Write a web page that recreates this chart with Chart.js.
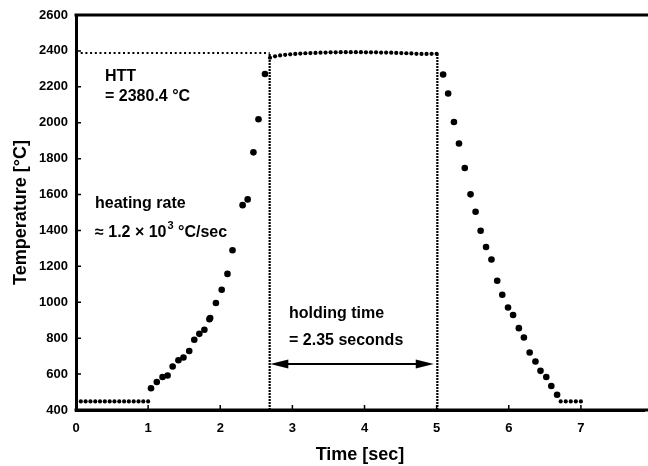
<!DOCTYPE html>
<html>
<head>
<meta charset="utf-8">
<script src="https://cdn.jsdelivr.net/npm/chart.js@4"></script>
<style>
html,body{margin:0;padding:0;background:#fff;}
#wrap{width:648px;height:466px;}
</style>
</head>
<body>
<div id="wrap"><canvas id="c" width="648" height="466"></canvas></div>
<script>
// ---- data ----
const xTicks = [0, 1, 2, 3, 4, 5, 6, 7];
const yTicks = [400, 600, 800, 1000, 1200, 1400, 1600, 1800, 2000, 2200, 2400, 2600];

const flatStartX = [0, 0.067, 0.133, 0.2, 0.267, 0.333, 0.4, 0.467, 0.533, 0.6, 0.667, 0.733, 0.8, 0.867, 0.933, 1.0];
const flatStartY = [448, 448, 448, 448, 448, 448, 448, 448, 448, 448, 448, 448, 448, 448, 448, 448];

const riseX = [1.04, 1.12, 1.20, 1.27, 1.34, 1.42, 1.49, 1.57, 1.64, 1.71, 1.78, 1.85, 1.86, 1.94, 2.02, 2.10, 2.17, 2.31, 2.38, 2.46, 2.53, 2.62];
const riseY = [521, 556, 584, 592, 642, 677, 692, 729, 791, 824, 847, 906, 912, 996, 1070, 1158, 1290, 1541, 1573, 1835, 2019, 2271];

const plateauX = [2.69, 2.76, 2.83, 2.90, 2.97, 3.04, 3.11, 3.18, 3.25, 3.32, 3.39, 3.46, 3.53, 3.60, 3.67, 3.74, 3.81, 3.88, 3.95, 4.02, 4.09, 4.16, 4.23, 4.30, 4.37, 4.44, 4.51, 4.58, 4.65, 4.72, 4.79, 4.86, 4.93, 5.00];
const plateauY = [2362, 2370, 2375, 2378, 2381, 2383, 2385, 2387, 2388, 2389, 2390, 2391, 2392, 2392, 2393, 2393, 2393, 2393, 2393, 2392, 2392, 2392, 2391, 2391, 2390, 2389, 2388, 2387, 2386, 2384, 2383, 2383, 2384, 2384];

const fallX = [5.09, 5.16, 5.24, 5.31, 5.39, 5.47, 5.54, 5.61, 5.685, 5.76, 5.84, 5.91, 5.99, 6.06, 6.14, 6.21, 6.29, 6.37, 6.44, 6.52, 6.59, 6.67];
const fallY = [2269, 2163, 2004, 1884, 1748, 1601, 1504, 1398, 1308, 1238, 1120, 1042, 971, 929, 856, 804, 720, 670, 618, 584, 534, 485];

const flatEndX = [6.72, 6.79, 6.86, 6.93, 7.0];
const flatEndY = [448, 448, 448, 448, 448];

const httLevel = 2388;
const holdStart = 2.685;
const holdEnd = 5.01;
const arrowY = 656;
const arrowX = [2.694, 4.96];

const xMin = 0, xMax = 7.875, yMin = 400, yMax = 2600;

const zip = (xs, ys) => xs.map((x, i) => ({x: x, y: ys[i]}));

const FONT = "'Liberation Sans', Arial, sans-serif";

const decor = {
  id: 'decor',
  afterDraw(chart) {
    const ctx = chart.ctx;
    const xs = chart.scales.x, ys = chart.scales.y;
    const a = chart.chartArea;
    ctx.save();
    // top border and bottom frame continued to the page edge
    ctx.strokeStyle = '#000';
    ctx.lineWidth = 3;
    ctx.lineCap = 'butt';
    ctx.beginPath();
    ctx.moveTo(a.left - 1.5, a.top);
    ctx.lineTo(chart.width, a.top);
    ctx.moveTo(a.left - 1.5, a.bottom);
    ctx.lineTo(chart.width, a.bottom);
    ctx.stroke();
    // inward tick marks
    ctx.lineWidth = 1.5;
    ctx.beginPath();
    yTicks.forEach(v => {
      const p = ys.getPixelForValue(v);
      ctx.moveTo(a.left, p); ctx.lineTo(a.left + 5, p);
    });
    xTicks.forEach(v => {
      const p = xs.getPixelForValue(v);
      ctx.moveTo(p, a.bottom); ctx.lineTo(p, a.bottom - 5);
    });
    ctx.stroke();
    // double arrow
    const y = ys.getPixelForValue(arrowY);
    const x1 = xs.getPixelForValue(arrowX[0]);
    const x2 = xs.getPixelForValue(arrowX[1]);
    const hl = 18, hh = 4.5;
    ctx.lineWidth = 2;
    ctx.beginPath();
    ctx.moveTo(x1 + hl - 2, y); ctx.lineTo(x2 - hl + 2, y);
    ctx.stroke();
    ctx.fillStyle = '#000';
    ctx.beginPath();
    ctx.moveTo(x1, y); ctx.lineTo(x1 + hl, y - hh); ctx.lineTo(x1 + hl, y + hh); ctx.closePath();
    ctx.fill();
    ctx.beginPath();
    ctx.moveTo(x2, y); ctx.lineTo(x2 - hl, y - hh); ctx.lineTo(x2 - hl, y + hh); ctx.closePath();
    ctx.fill();
    // annotations
    ctx.fillStyle = '#000';
    ctx.textBaseline = 'alphabetic';
    ctx.textAlign = 'left';
    ctx.font = 'bold 16px ' + FONT;
    ctx.fillText('HTT', 105, 81);
    ctx.fillText('= 2380.4 \u00B0C', 105, 101);
    ctx.fillText('heating rate', 95, 208);
    let t1 = '\u2248 1.2 \u00D7 10';
    ctx.fillText(t1, 95, 237);
    let w = ctx.measureText(t1).width;
    ctx.font = 'bold 11px ' + FONT;
    ctx.fillText('3', 95 + w + 1, 229);
    let w3 = ctx.measureText('3').width;
    ctx.font = 'bold 16px ' + FONT;
    ctx.fillText(' \u00B0C/sec', 95 + w + 1 + w3, 237);
    ctx.fillText('holding time', 289, 318);
    ctx.fillText('= 2.35 seconds', 289, 345);
    ctx.restore();
  }
};

const bigPt = {pointRadius: 3.3, pointBackgroundColor: '#000', pointBorderWidth: 0, showLine: false};
const smallPt = {pointRadius: 2.1, pointBackgroundColor: '#000', pointBorderWidth: 0, showLine: false};

new Chart(document.getElementById('c'), {
  type: 'scatter',
  data: {
    datasets: [
      {data: zip([0, holdStart], [httLevel, httLevel]), showLine: true, borderColor: '#000', borderWidth: 2, borderDash: [2, 2.7], pointRadius: 0},
      {data: zip([holdStart, holdStart], [yMin, httLevel]), showLine: true, borderColor: '#000', borderWidth: 2.2, borderDash: [2, 1], pointRadius: 0},
      {data: zip([holdEnd, holdEnd], [yMin, httLevel]), showLine: true, borderColor: '#000', borderWidth: 2.2, borderDash: [2, 1], pointRadius: 0},
      Object.assign({data: zip(flatStartX, flatStartY)}, smallPt),
      Object.assign({data: zip(riseX, riseY)}, bigPt),
      Object.assign({data: zip(plateauX, plateauY)}, smallPt),
      Object.assign({data: zip(fallX, fallY)}, bigPt),
      Object.assign({data: zip(flatEndX, flatEndY)}, smallPt)
    ]
  },
  options: {
    responsive: false,
    animation: false,
    events: [],
    layout: {padding: {top: 15, right: 0, left: 10, bottom: 0}},
    plugins: {legend: {display: false}, tooltip: {enabled: false}},
    scales: {
      x: {
        type: 'linear', min: xMin, max: xMax,
        afterFit: s => { s.height = 56; s.paddingRight = 0; s.paddingLeft = 0; },
        grid: {display: false, drawTicks: false},
        border: {display: true, color: '#000', width: 3},
        ticks: {stepSize: 1, includeBounds: false, padding: 11, color: '#000', font: {family: FONT, size: 13, weight: 'bold'}, callback: v => String(v)},
        title: {display: true, text: 'Time [sec]', color: '#000', padding: {top: 0, bottom: 0}, font: {family: FONT, size: 18, weight: 'bold'}}
      },
      y: {
        type: 'linear', min: yMin, max: yMax,
        afterFit: s => { s.width = 66; s.paddingTop = 0; s.paddingBottom = 0; },
        grid: {display: false, drawTicks: false},
        border: {display: true, color: '#000', width: 3},
        ticks: {stepSize: 200, padding: 8, color: '#000', font: {family: FONT, size: 13, weight: 'bold'}, callback: v => String(v)},
        title: {display: true, text: 'Temperature [\u00B0C]', color: '#000', padding: {top: 0, bottom: 4}, font: {family: FONT, size: 18, weight: 'bold'}}
      }
    }
  },
  plugins: [decor]
});
</script>
</body>
</html>
